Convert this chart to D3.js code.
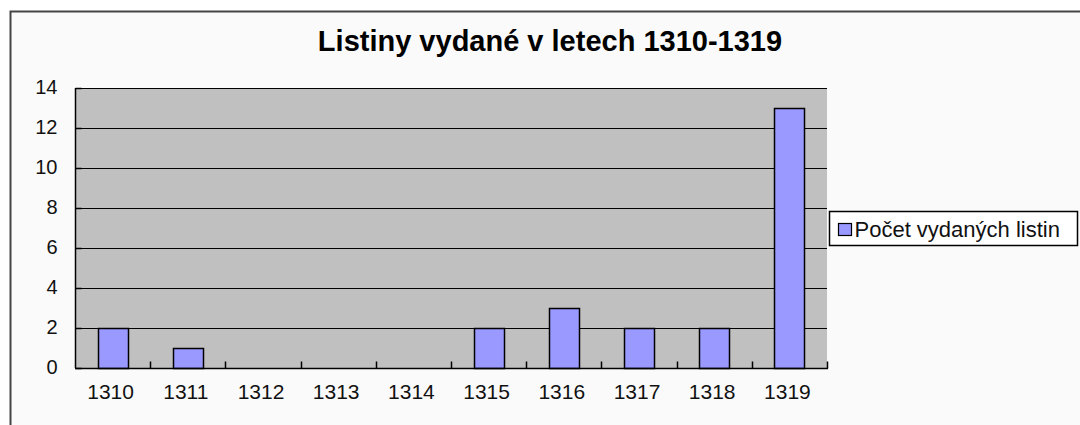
<!DOCTYPE html>
<html>
<head>
<meta charset="utf-8">
<script src="https://cdn.jsdelivr.net/npm/d3@7"></script>
<style>
  body { margin: 0; background: #ffffff; }
  svg text { font-family: "Liberation Sans", Arial, sans-serif; }
</style>
</head>
<body>
<svg id="chart" width="1080" height="425"></svg>
<script>
var years = ["1310", "1311", "1312", "1313", "1314", "1315", "1316", "1317", "1318", "1319"];
var counts = [2, 1, 0, 0, 0, 2, 3, 2, 2, 13];
var yTicks = [0, 2, 4, 6, 8, 10, 12, 14];
var seriesName = "Počet vydaných listin";
var title = "Listiny vydané v letech 1310-1319";

var svg = d3.select("#chart");

// chart frame (only top and left edges are visible in the picture)
svg.append("rect")
    .attr("x", 10.5).attr("y", 11.5)
    .attr("width", 1100).attr("height", 450)
    .attr("fill", "#fafafa")
    .attr("stroke", "#444").attr("stroke-width", 2);

var margin = {left: 75, top: 88, right: 827, bottom: 368};

var x = d3.scaleBand()
    .domain(years)
    .range([margin.left, margin.right])
    .paddingInner(0.6)
    .paddingOuter(0.3);

var xb = d3.scaleBand().domain(years).range([margin.left, margin.right]);

var y = d3.scaleLinear()
    .domain([0, 14])
    .range([margin.bottom, margin.top]);

// plot area
svg.append("rect")
    .attr("x", margin.left).attr("y", margin.top)
    .attr("width", margin.right - margin.left)
    .attr("height", margin.bottom - margin.top)
    .attr("fill", "#c0c0c0");

// gridlines
svg.append("g")
    .selectAll("line")
    .data(yTicks.filter(function(d) { return d > 0; }))
    .enter().append("line")
    .attr("x1", margin.left).attr("x2", margin.right)
    .attr("y1", function(d) { return Math.round(y(d)) + 0.5; })
    .attr("y2", function(d) { return Math.round(y(d)) + 0.5; })
    .attr("stroke", "#000").attr("stroke-width", 1);

// bars
svg.append("g")
    .selectAll("rect")
    .data(counts)
    .enter().append("rect")
    .attr("x", function(d, i) { return Math.round(x(years[i])) + 0.5; })
    .attr("y", function(d) { return Math.round(y(d)) + 0.5; })
    .attr("width", Math.round(x.bandwidth()))
    .attr("height", function(d) { return Math.round(y(0) - y(d)); })
    .attr("fill", "#9999ff")
    .attr("stroke", "#000").attr("stroke-width", 1.5)
    .style("display", function(d) { return d > 0 ? null : "none"; });

// x axis: ticks between categories, pointing up into the plot
var xAxis = svg.append("g")
    .attr("transform", "translate(0," + (margin.bottom + 0.5) + ")");
xAxis.append("line")
    .attr("x1", margin.left).attr("x2", margin.right + 1)
    .attr("stroke", "#000").attr("stroke-width", 1.5);
xAxis.selectAll(".tk")
    .data(years)
    .enter().append("line")
    .attr("class", "tk")
    .attr("x1", function(d) { return Math.round(xb(d) + xb.bandwidth()) + 0.5; })
    .attr("x2", function(d) { return Math.round(xb(d) + xb.bandwidth()) + 0.5; })
    .attr("y1", 0).attr("y2", -7)
    .attr("stroke", "#000").attr("stroke-width", 1.5);
xAxis.selectAll("text")
    .data(years)
    .enter().append("text")
    .attr("x", function(d) { return xb(d) + xb.bandwidth() / 2 - 2; })
    .attr("y", 30)
    .attr("text-anchor", "middle")
    .attr("font-size", 21)
    .attr("fill", "#111")
    .text(function(d) { return d; });

// y axis
var yAxis = svg.append("g")
    .attr("transform", "translate(" + (margin.left + 0.5) + ",0)");
yAxis.append("line")
    .attr("y1", margin.top).attr("y2", margin.bottom)
    .attr("stroke", "#000").attr("stroke-width", 1.5);
yAxis.selectAll("line.tk")
    .data(yTicks)
    .enter().append("line")
    .attr("class", "tk")
    .attr("x1", 0).attr("x2", 6)
    .attr("y1", function(d) { return Math.round(y(d)) + 0.5; })
    .attr("y2", function(d) { return Math.round(y(d)) + 0.5; })
    .attr("stroke", "#000").attr("stroke-width", 1.5);
yAxis.selectAll("text")
    .data(yTicks)
    .enter().append("text")
    .attr("x", -18)
    .attr("y", function(d) { return y(d) - 1; })
    .attr("dy", "0.35em")
    .attr("text-anchor", "end")
    .attr("font-size", 20)
    .attr("fill", "#111")
    .text(function(d) { return d; });

// title
svg.append("text")
    .attr("x", 550).attr("y", 51)
    .attr("text-anchor", "middle")
    .attr("font-size", 29)
    .attr("font-weight", "bold")
    .attr("fill", "#000")
    .text(title);

// legend
var lg = svg.append("g").attr("transform", "translate(829.5,211.5)");
lg.append("rect")
    .attr("width", 248).attr("height", 34)
    .attr("fill", "#fff").attr("stroke", "#000").attr("stroke-width", 1.5);
lg.append("rect")
    .attr("x", 9).attr("y", 12).attr("width", 13).attr("height", 12)
    .attr("fill", "#9999ff").attr("stroke", "#000").attr("stroke-width", 1.2);
lg.append("text")
    .attr("x", 25).attr("y", 25)
    .attr("font-size", 22)
    .attr("fill", "#111")
    .text(seriesName);
</script>
</body>
</html>
